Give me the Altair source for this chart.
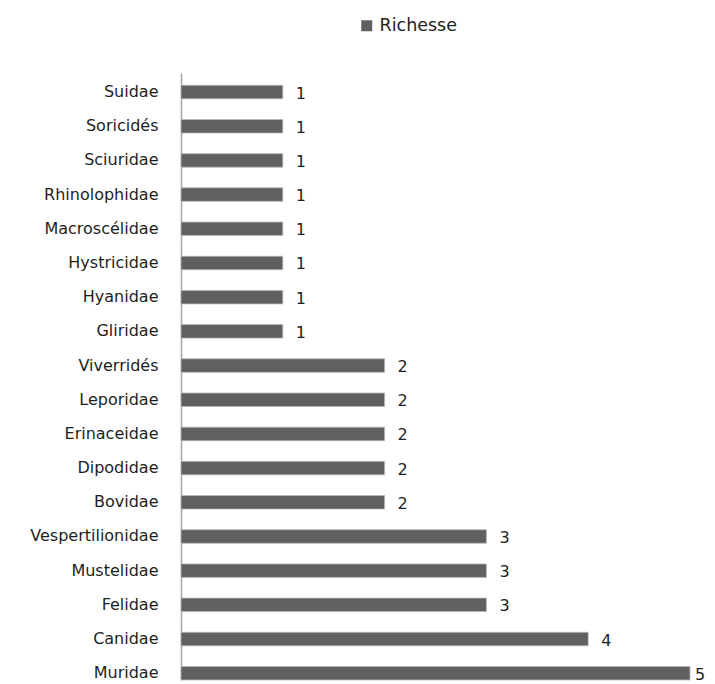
import altair as alt
import pandas as pd

families = ["Suidae", "Soricidés", "Sciuridae", "Rhinolophidae", "Macroscélidae",
            "Hystricidae", "Hyanidae", "Gliridae", "Viverridés", "Leporidae",
            "Erinaceidae", "Dipodidae", "Bovidae", "Vespertilionidae", "Mustelidae",
            "Felidae", "Canidae", "Muridae"]
richesse = [1, 1, 1, 1, 1, 1, 1, 1, 2, 2, 2, 2, 2, 3, 3, 3, 4, 5]
series = "Richesse"

df = pd.DataFrame({"Famille": families, "Richesse": richesse, "Serie": [series] * len(families)})

FONT = "DejaVu Sans"
TXT = "#1e1e1e"
XMAX = 5

y_enc = alt.Y("Famille:N", sort=families,
              scale=alt.Scale(paddingInner=0.605, paddingOuter=0.18, align=1),
              axis=alt.Axis(title=None, ticks=False, domainColor="#a6a6a6", domainWidth=1.5,
                            labelPadding=23, labelFontSize=16, labelFont=FONT,
                            labelColor=TXT, grid=False))
x_enc = alt.X("Richesse:Q", scale=alt.Scale(domain=[0, XMAX], nice=False), axis=None)

bars = alt.Chart(df).mark_bar(stroke="#b8b8b8", strokeWidth=0.8).encode(
    y=y_enc, x=x_enc,
    color=alt.Color("Serie:N", scale=alt.Scale(range=["#606060"]),
                    legend=alt.Legend(title=None, orient="none", legendX=177, legendY=-56,
                                      padding=0,
                                      symbolType="square", symbolSize=121,
                                      symbolStrokeWidth=0,
                                      labelFontSize=17.5, labelFont=FONT, labelColor=TXT,
                                      labelOffset=4))
)

labels = alt.Chart(df).transform_filter(alt.datum.Richesse < XMAX).mark_text(
    align="left", baseline="middle", dx=13, dy=1.5,
    fontSize=16, font=FONT, color=TXT).encode(
    y=alt.Y("Famille:N", sort=families), x="Richesse:Q", text="Richesse:Q")

# the longest bar's label sits at the right edge of the page
labels_max = alt.Chart(df).transform_filter(alt.datum.Richesse >= XMAX).mark_text(
    align="left", baseline="middle", dx=5, dy=1.5,
    fontSize=16, font=FONT, color=TXT).encode(
    y=alt.Y("Famille:N", sort=families), x="Richesse:Q", text="Richesse:Q")

chart = alt.layer(bars, labels, labels_max).properties(
    width=509, height=607,
    padding={"left": 173, "top": 65, "right": 16, "bottom": 12},
    autosize=alt.AutoSizeParams(type="none")
).configure_view(stroke=None)

chart.save("out.html", embed_options={"renderer": "svg", "actions": False})
